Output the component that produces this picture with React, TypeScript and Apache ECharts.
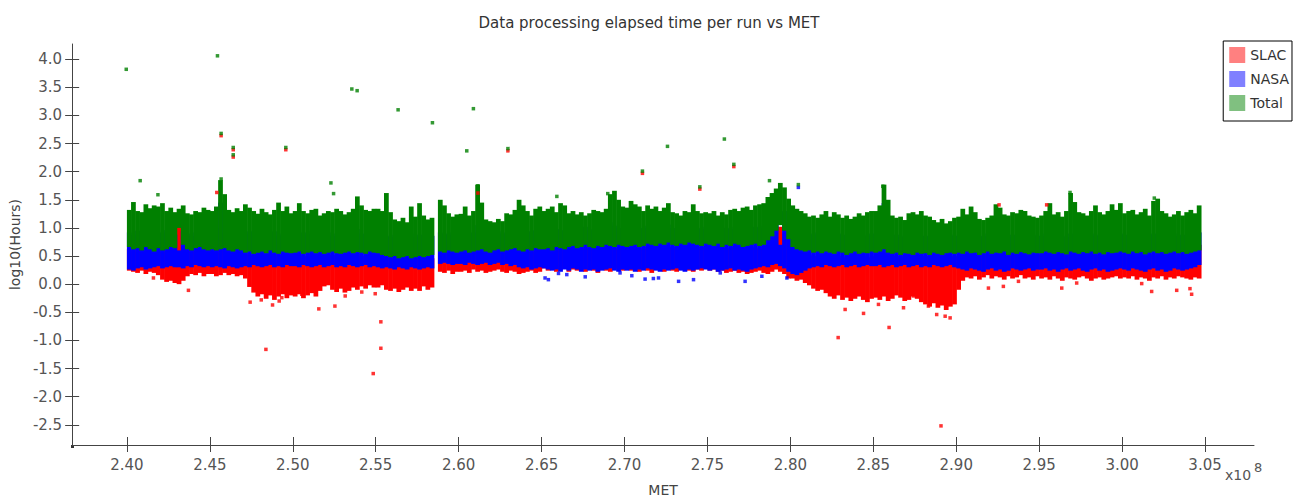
import React, { useEffect, useRef } from 'react';
import * as echarts from 'echarts';

const TITLE = 'Data processing elapsed time per run vs MET';
const X_NAME = 'MET';
const Y_NAME = 'log10(Hours)';
const SERIES_NAMES = ['SLAC', 'NASA', 'Total'];
const SERIES_COLORS = ['#ff0000', '#0000ff', '#008000'];
const LEGEND_COLORS = ['#ff8080', '#8080ff', '#80c080'];

const xTicks = [2.40, 2.45, 2.50, 2.55, 2.60, 2.65, 2.70, 2.75, 2.80, 2.85, 2.90, 2.95, 3.00, 3.05];
const yTicks = [-2.5, -2.0, -1.5, -1.0, -0.5, 0.0, 0.5, 1.0, 1.5, 2.0, 2.5, 3.0, 3.5, 4.0];
const X_MIN = 2.367;
const X_MAX = 3.0795;
const Y_MIN = -2.86;
const Y_MAX = 4.27;

// MET bins (units of 1e8 s), one every metStep starting at metStart
const metStart = 2.4;
const metStep = 0.0025;

// Total (green) cloud: lower / upper edge per bin
const totalHi = [
  1.32,1.46,1.30,1.28,1.42,1.35,1.40,1.38,1.44,1.30,1.36,1.28,1.34,1.40,1.26,1.24,1.30,1.28,1.36,1.32,
  1.30,1.38,1.85,1.60,1.32,1.28,1.35,1.30,1.42,1.36,1.30,1.25,1.34,1.28,1.24,1.32,1.45,1.30,1.38,1.26,
  1.30,1.44,1.30,1.26,1.32,1.34,1.22,1.26,1.30,1.28,1.34,1.30,1.24,1.28,1.34,1.56,1.40,1.32,1.30,1.34,
  1.34,1.30,1.62,1.28,1.15,1.12,1.18,1.10,1.38,1.20,1.44,1.22,1.15,1.18,null,1.50,1.40,1.26,1.20,1.24,
  1.25,1.38,1.22,1.30,1.77,1.45,1.15,1.12,1.10,1.16,1.12,1.26,1.24,1.32,1.50,1.40,1.30,1.22,1.34,1.38,
  1.30,1.34,1.38,1.28,1.44,1.40,1.26,1.30,1.24,1.28,1.22,1.26,1.32,1.30,1.28,1.34,1.60,1.66,1.50,1.38,
  1.36,1.48,1.42,1.38,1.30,1.40,1.34,1.38,1.30,1.36,1.44,1.28,1.26,1.22,1.30,1.28,1.42,1.30,1.26,1.28,
  1.26,1.30,1.22,1.28,1.24,1.32,1.34,1.30,1.36,1.38,1.32,1.40,1.42,1.44,1.55,1.62,1.70,1.80,1.72,1.52,
  1.40,1.34,1.30,1.26,1.20,1.22,1.18,1.24,1.30,1.20,1.28,1.24,1.18,1.22,1.16,1.20,1.26,1.22,1.28,1.30,
  1.30,1.40,1.77,1.50,1.22,1.18,1.20,1.14,1.26,1.28,1.24,1.30,1.22,1.20,1.14,1.10,1.16,1.08,1.12,1.18,
  1.20,1.34,1.24,1.38,1.28,1.16,1.14,1.18,1.22,1.42,1.36,1.24,1.22,1.28,1.26,1.32,1.30,1.22,1.20,1.18,
  1.22,1.30,1.44,1.24,1.28,1.20,1.30,1.62,1.46,1.28,1.26,1.22,1.30,1.40,1.28,1.24,1.30,1.42,1.32,1.44,
  1.26,1.30,1.32,1.24,1.28,1.34,1.22,1.48,1.52,1.30,1.26,1.20,1.24,1.30,1.22,1.28,1.32,1.26,1.40,null,
];
const totalLo = [
  0.66,0.62,0.64,0.60,0.66,0.62,0.58,0.64,0.60,0.62,0.66,0.64,1.00,0.70,0.62,0.60,0.64,0.66,0.62,0.60,
  0.62,0.60,0.62,0.64,0.60,0.58,0.62,0.60,0.56,0.58,0.54,0.56,0.58,0.55,0.60,0.56,0.54,0.58,0.56,0.55,
  0.56,0.58,0.54,0.56,0.58,0.55,0.57,0.54,0.56,0.58,0.55,0.54,0.56,0.58,0.55,0.57,0.56,0.54,0.58,0.56,
  0.55,0.52,0.50,0.48,0.50,0.46,0.48,0.50,0.46,0.48,0.50,0.48,0.50,0.52,null,0.58,0.56,0.60,0.58,0.56,
  0.58,0.60,0.56,0.58,0.60,0.62,0.58,0.56,0.60,0.62,0.58,0.60,0.62,0.64,0.60,0.58,0.62,0.60,0.64,0.62,
  0.62,0.64,0.60,0.66,0.64,0.62,0.66,0.68,0.64,0.66,0.70,0.66,0.64,0.68,0.66,0.70,0.68,0.66,0.70,0.68,
  0.66,0.68,0.70,0.66,0.68,0.72,0.70,0.68,0.72,0.70,0.74,0.70,0.68,0.72,0.70,0.74,0.72,0.70,0.68,0.72,
  0.70,0.68,0.72,0.66,0.70,0.68,0.72,0.70,0.66,0.68,0.70,0.72,0.68,0.70,0.78,0.85,0.95,1.05,0.95,0.80,
  0.66,0.62,0.60,0.58,0.60,0.56,0.58,0.55,0.58,0.56,0.54,0.58,0.56,0.52,0.55,0.58,0.54,0.56,0.55,0.58,
  0.56,0.58,0.62,0.56,0.54,0.56,0.52,0.55,0.54,0.52,0.56,0.54,0.55,0.52,0.56,0.54,0.52,0.55,0.56,0.54,
  0.56,0.54,0.58,0.55,0.56,0.52,0.55,0.58,0.54,0.56,0.55,0.58,0.52,0.56,0.54,0.57,0.55,0.53,0.56,0.55,
  0.55,0.58,0.56,0.54,0.57,0.55,0.53,0.58,0.56,0.54,0.57,0.55,0.58,0.54,0.56,0.53,0.57,0.55,0.56,0.58,
  0.56,0.54,0.58,0.55,0.57,0.53,0.56,0.58,0.55,0.57,0.54,0.56,0.58,0.55,0.57,0.54,0.56,0.58,0.60,null,
];

// NASA (blue) cloud
const nasaHi = [
  0.92,0.88,0.95,0.90,0.86,0.94,0.90,0.88,0.92,0.96,0.90,0.88,0.60,0.94,0.90,0.86,0.92,0.95,0.88,0.90,
  0.94,1.00,1.45,1.10,0.90,0.88,0.92,0.86,0.90,0.94,0.88,0.86,0.92,0.90,0.88,0.94,0.86,0.90,0.92,0.88,
  0.90,0.86,0.92,0.88,0.94,0.86,0.90,0.88,0.92,0.86,0.90,0.94,0.88,0.86,0.92,0.98,0.90,0.88,0.92,0.86,
  0.88,0.92,0.86,0.84,0.88,0.82,0.86,0.84,0.90,0.84,0.88,0.86,0.84,0.86,null,0.92,0.90,0.88,0.92,0.90,
  0.90,0.94,0.88,0.92,1.05,0.96,0.90,0.88,0.92,0.94,0.90,0.92,0.96,0.94,1.00,0.96,0.92,0.94,0.96,0.92,
  0.94,0.96,0.92,0.98,0.96,0.94,0.98,1.00,0.96,0.98,1.02,0.96,0.98,1.00,0.96,1.02,1.10,1.04,1.00,0.98,
  0.98,1.00,1.02,0.98,1.00,1.04,1.00,0.98,1.02,1.04,1.06,1.00,0.98,1.02,1.00,1.04,1.02,1.00,0.98,1.02,
  1.00,0.98,1.02,0.96,1.00,0.98,1.02,1.00,0.96,0.98,1.00,1.02,1.00,1.04,1.20,1.40,1.50,0.70,1.30,1.10,
  1.00,0.96,0.94,0.92,0.90,0.88,0.92,0.86,0.90,0.88,0.86,0.90,0.88,0.84,0.86,0.90,0.86,0.88,0.86,0.90,
  0.88,0.92,1.44,0.90,0.86,0.88,0.84,0.86,0.88,0.84,0.88,0.86,0.86,0.84,0.88,0.86,0.84,0.86,0.88,0.86,
  0.86,0.88,0.90,0.86,0.88,0.84,0.86,0.90,0.86,0.88,0.86,0.90,0.84,0.88,0.86,0.88,0.86,0.84,0.88,0.86,
  0.86,0.90,0.88,0.86,0.88,0.86,0.84,0.90,0.88,0.86,0.88,0.86,0.90,0.86,0.88,0.84,0.88,0.86,0.88,0.90,
  0.88,0.86,0.90,0.86,0.88,0.84,0.88,0.90,0.86,0.88,0.86,0.88,0.90,0.86,0.88,0.86,0.88,0.90,0.92,null,
];
const nasaLo = [
  0.26,0.24,0.28,0.30,0.26,0.28,0.30,0.32,0.28,0.30,0.32,0.30,0.30,0.28,0.32,0.30,0.34,0.32,0.30,0.32,
  0.30,0.32,0.30,0.28,0.32,0.30,0.28,0.30,0.32,0.30,0.34,0.32,0.30,0.32,0.34,0.30,0.32,0.30,0.34,0.32,
  0.32,0.30,0.34,0.32,0.30,0.32,0.34,0.30,0.32,0.34,0.30,0.32,0.30,0.34,0.32,0.30,0.32,0.34,0.30,0.32,
  0.30,0.28,0.30,0.28,0.26,0.30,0.28,0.26,0.30,0.28,0.26,0.28,0.30,0.28,null,0.36,0.38,0.36,0.34,0.36,
  0.36,0.34,0.38,0.36,0.34,0.36,0.38,0.34,0.36,0.38,0.34,0.36,0.32,0.34,0.30,0.28,0.30,0.26,0.28,0.30,
  0.28,0.26,0.24,0.26,0.22,0.26,0.24,0.28,0.26,0.22,0.26,0.24,0.26,0.22,0.24,0.26,0.28,0.24,0.22,0.26,
  0.24,0.26,0.22,0.26,0.24,0.28,0.26,0.24,0.22,0.26,0.24,0.26,0.28,0.24,0.22,0.26,0.24,0.26,0.28,0.26,
  0.24,0.26,0.22,0.24,0.26,0.28,0.24,0.26,0.24,0.22,0.26,0.28,0.30,0.32,0.30,0.34,0.36,0.32,0.28,0.22,
  0.18,0.16,0.20,0.24,0.28,0.30,0.32,0.30,0.34,0.32,0.30,0.32,0.34,0.30,0.32,0.34,0.30,0.32,0.34,0.32,
  0.32,0.34,0.30,0.32,0.34,0.30,0.32,0.34,0.30,0.32,0.34,0.30,0.32,0.30,0.34,0.32,0.30,0.32,0.34,0.30,
  0.28,0.26,0.24,0.28,0.26,0.24,0.22,0.26,0.28,0.24,0.26,0.22,0.24,0.28,0.26,0.24,0.26,0.28,0.24,0.26,
  0.26,0.28,0.24,0.26,0.22,0.26,0.28,0.24,0.26,0.28,0.24,0.22,0.26,0.28,0.24,0.26,0.22,0.24,0.26,0.28,
  0.26,0.24,0.28,0.26,0.24,0.22,0.26,0.28,0.24,0.26,0.22,0.24,0.28,0.26,0.24,0.26,0.28,0.30,0.34,null,
];

// SLAC (red) cloud
const slacHi = [
  0.62,0.58,0.64,0.60,0.66,0.62,0.60,0.64,0.58,0.62,0.66,0.70,1.02,0.72,0.60,0.64,0.58,0.62,0.60,0.64,
  0.60,0.66,0.90,0.70,0.62,0.58,0.60,0.64,0.56,0.52,0.50,0.48,0.52,0.50,0.48,0.54,0.50,0.52,0.48,0.50,
  0.50,0.52,0.48,0.50,0.54,0.48,0.52,0.50,0.48,0.52,0.50,0.54,0.48,0.50,0.52,0.56,0.50,0.48,0.52,0.50,
  0.50,0.48,0.52,0.46,0.48,0.50,0.46,0.48,0.50,0.46,0.48,0.50,0.48,0.46,null,0.58,0.56,0.60,0.58,0.56,
  0.58,0.60,0.56,0.62,0.70,0.60,0.58,0.56,0.60,0.62,0.58,0.60,0.62,0.58,0.64,0.60,0.62,0.58,0.60,0.62,
  0.64,0.60,0.62,0.66,0.60,0.64,0.62,0.66,0.60,0.64,0.62,0.66,0.60,0.64,0.62,0.66,0.70,0.64,0.62,0.66,
  0.62,0.66,0.60,0.64,0.62,0.66,0.64,0.60,0.66,0.62,0.64,0.66,0.60,0.64,0.62,0.66,0.64,0.62,0.66,0.64,
  0.64,0.62,0.66,0.60,0.64,0.62,0.66,0.64,0.60,0.62,0.66,0.64,0.62,0.66,0.70,0.80,0.95,1.02,0.90,0.70,
  0.60,0.56,0.58,0.54,0.52,0.50,0.48,0.52,0.50,0.46,0.48,0.50,0.46,0.48,0.50,0.46,0.48,0.50,0.46,0.48,
  0.50,0.48,0.52,0.46,0.48,0.50,0.46,0.48,0.50,0.46,0.48,0.46,0.50,0.48,0.46,0.50,0.48,0.46,0.50,0.48,
  0.50,0.52,0.56,0.54,0.52,0.56,0.54,0.52,0.56,0.54,0.52,0.56,0.54,0.52,0.56,0.54,0.52,0.56,0.54,0.52,
  0.54,0.56,0.52,0.56,0.54,0.52,0.56,0.54,0.52,0.56,0.54,0.52,0.56,0.54,0.52,0.56,0.54,0.52,0.56,0.54,
  0.54,0.52,0.56,0.54,0.52,0.56,0.54,0.52,0.56,0.54,0.52,0.56,0.54,0.52,0.56,0.54,0.58,0.62,0.70,null,
];
const slacLo = [
  0.24,0.22,0.20,0.24,0.18,0.22,0.20,0.16,0.08,0.04,0.06,0.02,0.00,0.06,0.14,0.18,0.16,0.20,0.14,0.18,
  0.18,0.14,0.16,0.20,0.16,0.18,0.14,0.16,0.10,-0.05,-0.15,-0.22,-0.18,-0.26,-0.20,-0.28,-0.22,-0.18,-0.25,-0.20,
  -0.22,-0.18,-0.25,-0.20,-0.16,-0.22,-0.12,-0.04,-0.02,-0.10,-0.14,-0.08,-0.15,-0.12,-0.06,-0.10,-0.04,-0.08,-0.02,-0.06,
  -0.06,-0.02,-0.10,-0.12,-0.08,-0.14,-0.10,-0.06,-0.12,-0.08,-0.12,-0.04,-0.10,-0.06,null,0.22,0.20,0.24,0.18,0.22,
  0.22,0.24,0.20,0.26,0.22,0.24,0.20,0.22,0.24,0.26,0.22,0.20,0.24,0.22,0.18,0.20,0.22,0.24,0.20,0.22,
  0.28,0.24,0.26,0.22,0.26,0.28,0.22,0.26,0.24,0.28,0.22,0.26,0.24,0.20,0.26,0.24,0.22,0.26,0.28,0.24,
  0.26,0.24,0.28,0.22,0.26,0.24,0.20,0.26,0.28,0.22,0.26,0.24,0.22,0.26,0.28,0.24,0.22,0.26,0.24,0.28,
  0.24,0.26,0.22,0.24,0.20,0.22,0.24,0.20,0.22,0.18,0.20,0.22,0.24,0.20,0.18,0.22,0.26,0.22,0.18,0.10,
  0.10,0.06,0.08,0.02,-0.02,-0.08,-0.12,-0.10,-0.16,-0.22,-0.26,-0.20,-0.28,-0.24,-0.30,-0.26,-0.22,-0.28,-0.32,-0.26,
  -0.24,-0.28,-0.22,-0.30,-0.26,-0.20,-0.24,-0.30,-0.28,-0.22,-0.26,-0.32,-0.36,-0.40,-0.34,-0.42,-0.38,-0.46,-0.40,-0.36,
  -0.10,0.06,0.12,0.10,0.14,0.08,0.12,0.16,0.10,0.14,0.12,0.08,0.14,0.10,0.12,0.16,0.10,0.12,0.08,0.14,
  0.10,0.12,0.08,0.14,0.10,0.06,0.12,0.10,0.08,0.12,0.14,0.10,0.06,0.10,0.12,0.08,0.10,0.12,0.14,0.10,
  0.12,0.10,0.14,0.08,0.12,0.10,0.06,0.12,0.10,0.14,0.08,0.12,0.10,0.14,0.12,0.10,0.08,0.12,0.10,null,
];

// Isolated runs outside the dense clouds: [MET (1e8 s), log10(hours)]
const totalOutliers = [
  [2.3996, 3.82], [2.408, 1.84], [2.4546, 4.06], [2.4568, 2.68], [2.4641, 2.43], [2.4641, 2.30],
  [2.4958, 2.43], [2.523, 1.80], [2.5356, 3.47], [2.5388, 3.44], [2.5635, 3.10], [2.5842, 2.87],
  [2.6049, 2.37], [2.6089, 3.12], [2.6297, 2.41], [2.7108, 2.01], [2.7259, 2.45], [2.7454, 1.73],
  [2.7602, 2.58], [2.7659, 2.13], [2.7874, 1.84], [2.8048, 1.77], [2.4187, 1.59], [2.4568, 1.87],
  [2.5246, 1.61], [2.6116, 1.75], [2.6592, 1.56], [2.6899, 1.61], [2.8557, 1.74], [2.9686, 1.63],
  [3.0194, 1.53],
];
const nasaOutliers = [
  [2.8048, 1.72], [2.6521, 0.11], [2.6541, 0.08], [2.6602, 0.19], [2.6652, 0.17], [2.6763, 0.13],
  [2.6973, 0.20], [2.7044, 0.15], [2.7124, 0.09], [2.7174, 0.10], [2.7205, 0.11], [2.7326, 0.05],
  [2.7416, 0.08], [2.7577, 0.20], [2.7727, 0.05], [2.7828, 0.14], [2.7979, 0.11],
];
const slacOutliers = [
  [2.4568, 2.64], [2.4641, 2.39], [2.4641, 2.26], [2.4958, 2.39], [2.6297, 2.37], [2.7108, 1.97],
  [2.7454, 1.69], [2.7659, 2.09], [2.4743, -0.32], [2.4810, -0.28], [2.4878, -0.37], [2.4918, -0.30],
  [2.5157, -0.44], [2.5254, -0.39], [2.5531, -0.67], [2.4838, -1.16], [2.5531, -1.14], [2.5485, -1.59],
  [2.8288, -0.95], [2.8595, -0.77], [2.8908, -2.52], [2.8330, -0.45], [2.8441, -0.52], [2.8531, -0.36],
  [2.8682, -0.42], [2.8742, -0.21], [2.8832, -0.39], [2.8882, -0.54], [2.8933, -0.57], [2.8963, -0.60],
  [2.9194, -0.07], [2.9284, -0.04], [2.9375, 0.05], [2.9636, -0.07], [2.9726, 0.02], [3.0118, 0.01],
  [3.0178, -0.13], [3.0329, -0.11], [3.0409, -0.08], [3.0419, -0.18], [2.4160, 0.11], [2.4371, -0.11],
  [2.4542, 1.63], [2.6116, 1.62], [2.9258, 1.41], [2.9545, 1.41], [2.4934, -0.24], [2.5054, -0.18],
  [2.5316, -0.21], [2.5416, -0.14], [2.5497, -0.17],
];

const FONT = 'DejaVu Sans';

function bandData(lo: (number | null)[], hi: (number | null)[]) {
  const out: number[][] = [];
  for (let i = 0; i < lo.length; i++) {
    const l = lo[i];
    const h = hi[i];
    if (l == null || h == null) continue;
    out.push([metStart + i * metStep, l, h]);
  }
  return out;
}

function bandSeries(name: string, color: string, lo: (number | null)[], hi: (number | null)[]) {
  return {
    type: 'custom',
    name,
    data: bandData(lo, hi),
    encode: { x: 0, y: [1, 2] },
    clip: true,
    silent: true,
    itemStyle: { color },
    renderItem: (params: any, api: any) => {
      const x0 = api.value(0);
      const lo0 = api.value(1);
      const hi0 = api.value(2);
      const p1 = api.coord([x0, hi0]);
      const p2 = api.coord([x0 + metStep, lo0]);
      return {
        type: 'rect',
        shape: { x: p1[0], y: p1[1], width: p2[0] - p1[0] + 0.6, height: p2[1] - p1[1] },
        style: { fill: color },
      };
    },
  };
}

function pointSeries(name: string, color: string, data: number[][]) {
  return {
    type: 'scatter',
    name,
    data,
    symbol: 'rect',
    symbolSize: 3.5,
    silent: true,
    itemStyle: { color },
  };
}

export default function App() {
  const ref = useRef<HTMLDivElement>(null);

  useEffect(() => {
    if (!ref.current) return;
    const chart = echarts.init(ref.current, undefined, { renderer: 'svg' });
    const axisLineStyle = { color: '#444', width: 1 };
    const option: any = {
      animation: false,
      backgroundColor: '#ffffff',
      title: {
        text: TITLE,
        left: 'center',
        top: 10,
        textStyle: { fontFamily: FONT, fontSize: 15, fontWeight: 'normal', color: '#333' },
      },
      legend: {
        orient: 'vertical',
        right: 6,
        top: 41,
        icon: 'rect',
        itemWidth: 16,
        itemHeight: 16,
        itemGap: 8,
        padding: [6, 3, 10, 6],
        borderColor: '#000',
        borderWidth: 1,
        selectedMode: false,
        textStyle: { fontFamily: FONT, fontSize: 14, color: '#333' },
        data: SERIES_NAMES.map((n, i) => ({ name: n, itemStyle: { color: LEGEND_COLORS[i] } })),
      },
      grid: { left: 72, right: 44, top: 44, bottom: 56, containLabel: false },
      xAxis: [
        {
          type: 'value',
          min: X_MIN,
          max: X_MAX,
          position: 'bottom',
          name: X_NAME,
          nameLocation: 'middle',
          nameGap: 38,
          nameTextStyle: { fontFamily: FONT, fontSize: 14, color: '#444' },
          axisLine: { show: true, onZero: false, lineStyle: axisLineStyle },
          axisTick: { show: true, length: 7, inside: false, customValues: xTicks, lineStyle: axisLineStyle },
          axisLabel: {
            customValues: xTicks,
            margin: 12,
            fontFamily: FONT,
            fontSize: 15,
            color: '#555',
            formatter: (v: number) => v.toFixed(2),
          },
          splitLine: { show: false },
        },
        {
          type: 'value',
          min: X_MIN,
          max: X_MAX,
          position: 'bottom',
          offset: 0,
          axisLine: { show: false, onZero: false },
          axisTick: { show: true, length: 8, inside: true, customValues: xTicks, lineStyle: axisLineStyle },
          axisLabel: { show: false },
          splitLine: { show: false },
        },
      ],
      yAxis: [
        {
          type: 'value',
          min: Y_MIN,
          max: Y_MAX,
          position: 'left',
          name: Y_NAME,
          nameLocation: 'middle',
          nameGap: 43,
          nameRotate: 90,
          nameTextStyle: { fontFamily: FONT, fontSize: 14, color: '#444' },
          axisLine: { show: true, onZero: false, lineStyle: axisLineStyle },
          axisTick: { show: true, length: 7, inside: false, customValues: yTicks, lineStyle: axisLineStyle },
          axisLabel: {
            customValues: yTicks,
            margin: 10,
            fontFamily: FONT,
            fontSize: 15,
            color: '#555',
            formatter: (v: number) => v.toFixed(1),
          },
          splitLine: { show: false },
        },
        {
          type: 'value',
          min: Y_MIN,
          max: Y_MAX,
          position: 'left',
          offset: 0,
          axisLine: { show: false, onZero: false },
          axisTick: { show: true, length: 7, inside: true, customValues: yTicks, lineStyle: axisLineStyle },
          axisLabel: { show: false },
          splitLine: { show: false },
        },
      ],
      graphic: [
        {
          type: 'text',
          x: 1225,
          y: 468,
          silent: true,
          style: { text: 'x10', fontFamily: FONT, fontSize: 14, fill: '#555' },
        },
        {
          type: 'text',
          x: 1254,
          y: 461,
          silent: true,
          style: { text: '8', fontFamily: FONT, fontSize: 13, fill: '#555' },
        },
        {
          type: 'rect',
          x: 71,
          y: 445,
          silent: true,
          shape: { width: 3, height: 3 },
          style: { fill: '#333' },
        },
      ],
      series: [
        bandSeries(SERIES_NAMES[0], SERIES_COLORS[0], slacLo, slacHi),
        bandSeries(SERIES_NAMES[1], SERIES_COLORS[1], nasaLo, nasaHi),
        bandSeries(SERIES_NAMES[2], SERIES_COLORS[2], totalLo, totalHi),
        pointSeries(SERIES_NAMES[0], SERIES_COLORS[0], slacOutliers),
        pointSeries(SERIES_NAMES[1], SERIES_COLORS[1], nasaOutliers),
        pointSeries(SERIES_NAMES[2], SERIES_COLORS[2], totalOutliers),
      ],
    };
    chart.setOption(option);
    return () => chart.dispose();
  }, []);

  return (
    <div
      ref={ref}
      style={{ position: 'fixed', left: 0, top: 0, width: 1298, height: 502, background: '#fff' }}
    />
  );
}
